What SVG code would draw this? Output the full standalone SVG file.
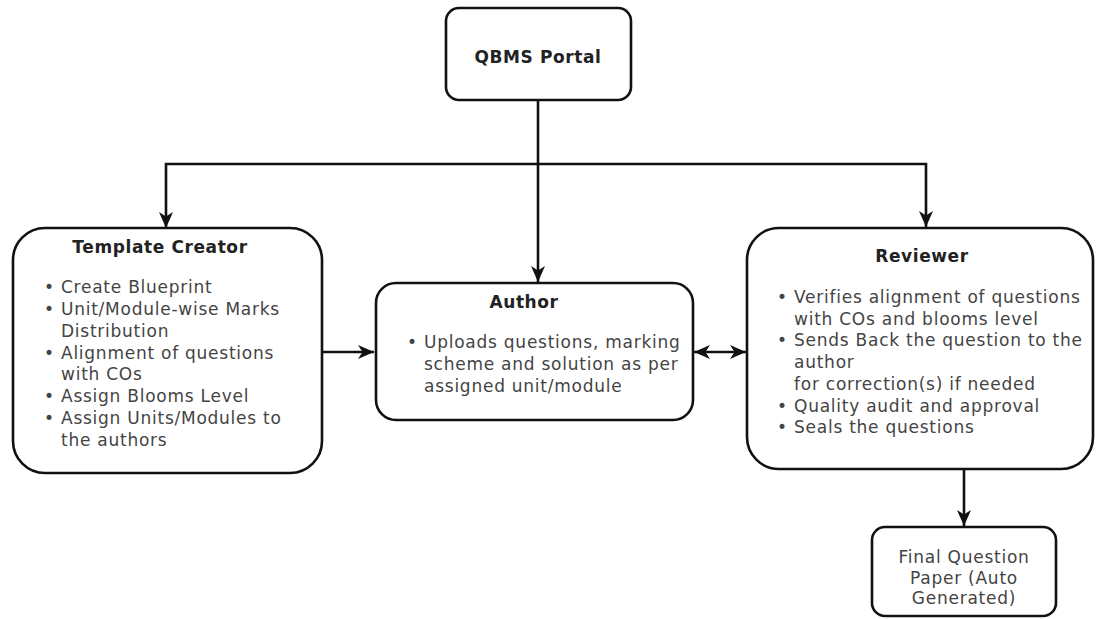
<svg xmlns="http://www.w3.org/2000/svg" width="1097" height="619" viewBox="0 0 1097 619">
<style>
.box{fill:#fff;stroke:#111;stroke-width:2.6}
.ttl{font-family:"DejaVu Sans",Verdana,sans-serif;font-size:17px;font-weight:bold;fill:#222;letter-spacing:0.6px}
.txt{font-family:"DejaVu Sans",Verdana,sans-serif;font-size:17px;fill:#444;letter-spacing:0.75px}
.con{fill:none;stroke:#111;stroke-width:2.6}
</style>
<defs>
<marker id="ah" markerUnits="userSpaceOnUse" markerWidth="16" markerHeight="16" viewBox="0 0 16 16" refX="16" refY="8" orient="auto-start-reverse">
<path d="M0,1 L16,8 L0,15 L4.5,8 Z" fill="#111"/>
</marker>
</defs>
<rect width="1097" height="619" fill="#fff"/>
<g id="connectors">
<line class="con" x1="538" y1="100" x2="538" y2="282" marker-end="url(#ah)"/>
<polyline class="con" points="166,228 166,164 926,164 926,227" marker-start="url(#ah)" marker-end="url(#ah)"/>
<line class="con" x1="322" y1="352" x2="374" y2="352" marker-end="url(#ah)"/>
<line class="con" x1="694" y1="352" x2="746" y2="352" marker-start="url(#ah)" marker-end="url(#ah)"/>
<line class="con" x1="964" y1="469" x2="964" y2="526" marker-end="url(#ah)"/>
</g>
<g id="qbms">
<rect class="box" x="446" y="8" width="185" height="92" rx="13"/>
<text class="ttl" x="538" y="63" text-anchor="middle">QBMS Portal</text>
</g>
<g id="template-creator">
<rect class="box" x="13" y="228" width="309" height="245" rx="32"/>
<text class="ttl" x="160" y="253" text-anchor="middle">Template Creator</text>
<g class="txt">
<text x="44" y="293">•</text><text x="61" y="293">Create Blueprint</text>
<text x="44" y="315">•</text><text x="61" y="315">Unit/Module-wise Marks</text>
<text x="61" y="337">Distribution</text>
<text x="44" y="359">•</text><text x="61" y="359">Alignment of questions</text>
<text x="61" y="380">with COs</text>
<text x="44" y="402">•</text><text x="61" y="402">Assign Blooms Level</text>
<text x="44" y="424">•</text><text x="61" y="424">Assign Units/Modules to</text>
<text x="61" y="446">the authors</text>
</g>
</g>
<g id="author">
<rect class="box" x="376" y="283" width="317" height="137" rx="20"/>
<text class="ttl" x="524" y="308" text-anchor="middle">Author</text>
<g class="txt">
<text x="407" y="348">•</text><text x="424" y="348">Uploads questions, marking</text>
<text x="424" y="370">scheme and solution as per</text>
<text x="424" y="392">assigned unit/module</text>
</g>
</g>
<g id="reviewer">
<rect class="box" x="747" y="228" width="346" height="241" rx="32"/>
<text class="ttl" x="922" y="262" text-anchor="middle">Reviewer</text>
<g class="txt">
<text x="777" y="303">•</text><text x="794" y="303">Verifies alignment of questions</text>
<text x="794" y="325">with COs and blooms level</text>
<text x="777" y="346">•</text><text x="794" y="346">Sends Back the question to the</text>
<text x="794" y="368">author</text>
<text x="794" y="390">for correction(s) if needed</text>
<text x="777" y="412">•</text><text x="794" y="412">Quality audit and approval</text>
<text x="777" y="433">•</text><text x="794" y="433">Seals the questions</text>
</g>
</g>
<g id="final-paper">
<rect class="box" x="872" y="527" width="184" height="89" rx="13"/>
<g class="txt" text-anchor="middle">
<text x="964" y="563">Final Question</text>
<text x="964" y="584">Paper (Auto</text>
<text x="964" y="604">Generated)</text>
</g>
</g>
</svg>
